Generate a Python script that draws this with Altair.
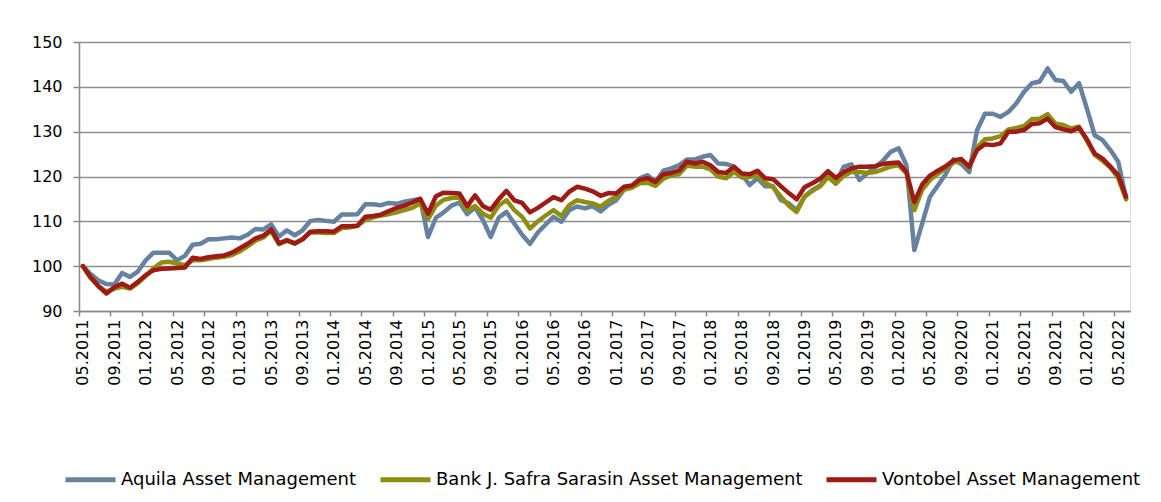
import altair as alt
import pandas as pd

months = pd.date_range("2011-05-01", periods=134, freq="MS").strftime("%m.%Y").tolist()

tick_labels = ["05.2011", "09.2011", "01.2012", "05.2012", "09.2012", "01.2013", "05.2013",
               "09.2013", "01.2014", "05.2014", "09.2014", "01.2015", "05.2015", "09.2015",
               "01.2016", "05.2016", "09.2016", "01.2017", "05.2017", "09.2017", "01.2018",
               "05.2018", "09.2018", "01.2019", "05.2019", "09.2019", "01.2020", "05.2020",
               "09.2020", "01.2021", "05.2021", "09.2021", "01.2022", "05.2022"]

y_ticks = [90, 100, 110, 120, 130, 140, 150]

aquila = [
    100.0, 98.2, 96.8, 96.0, 95.9, 98.5, 97.6, 98.8, 101.3, 103.0,
    103.0, 103.0, 101.3, 102.3, 104.8, 105.0, 106.0, 106.0, 106.2, 106.4,
    106.2, 107.0, 108.3, 108.2, 109.3, 106.6, 108.0, 106.9, 108.0, 110.1,
    110.3, 110.1, 109.9, 111.5, 111.5, 111.6, 113.8, 113.8, 113.6, 114.1,
    113.9, 114.4, 114.7, 115.0, 106.5, 110.8, 112.0, 113.5, 114.2, 111.6,
    113.1, 110.3, 106.5, 110.8, 112.1, 109.5, 107.0, 105.0, 107.5, 109.3,
    111.0, 109.9, 112.5, 113.3, 112.9, 113.4, 112.2, 113.7, 114.7, 117.1,
    117.7, 119.6, 120.3, 118.8, 121.3, 121.8, 122.5, 123.8, 123.8, 124.4,
    124.8, 122.9, 122.8, 122.2, 120.5, 118.1, 119.6, 117.8, 117.8, 114.7,
    114.0, 112.5, 115.5, 117.0, 118.0, 120.3, 118.4, 122.2, 122.7, 119.2,
    120.7, 122.0, 123.5, 125.5, 126.3, 122.5, 103.6, 109.5, 115.5, 118.0,
    120.5, 123.8, 122.8, 121.0, 130.3, 134.0, 134.0, 133.3, 134.4, 136.3,
    138.9, 140.8, 141.2, 144.1, 141.5, 141.3, 138.9, 140.8, 135.2, 129.2,
    128.1, 125.9, 123.3, 115.1,
]

safra = [
    100.0, 97.3, 95.5, 94.3, 95.0, 95.4, 95.0, 96.2, 97.8, 99.5,
    100.8, 101.0, 100.6, 100.2, 101.3, 101.3, 101.6, 101.9, 102.1, 102.5,
    103.3, 104.4, 105.7, 106.4, 107.9, 104.9, 105.7, 105.0, 106.0, 107.5,
    107.5, 107.4, 107.4, 108.5, 108.6, 109.0, 110.3, 110.9, 111.3, 111.6,
    112.0, 112.5, 113.0, 114.0, 110.5, 113.5, 114.8, 115.2, 115.3, 112.5,
    113.4, 111.7, 110.8, 113.5, 114.7, 112.5, 111.0, 108.4, 110.0, 111.3,
    112.5, 111.2, 113.6, 114.7, 114.3, 114.0, 113.3, 114.6, 115.5, 117.1,
    117.5, 118.5, 118.6, 117.9, 119.5, 120.3, 120.5, 122.4, 122.2, 122.2,
    121.6, 120.0, 119.6, 121.0, 119.8, 119.9, 120.3, 118.6, 117.6, 115.5,
    113.5, 112.1, 115.5, 116.8, 117.8, 119.9, 118.4, 120.2, 121.0, 121.0,
    120.8, 121.0, 121.6, 122.2, 122.5, 120.7, 112.5, 117.0, 119.2, 120.6,
    121.8, 123.1, 123.5, 122.0, 126.5, 128.3, 128.5, 129.0, 130.5, 130.8,
    131.3, 132.8, 132.9, 133.9, 131.8, 131.5, 130.7, 131.1, 128.0, 124.8,
    123.5, 122.0, 119.6, 114.9,
]

vontobel = [
    100.0, 97.5, 95.5, 93.9, 95.3, 96.1, 95.2, 96.5, 98.0, 99.1,
    99.4, 99.5, 99.6, 99.7, 101.9, 101.6, 102.0, 102.2, 102.4, 103.0,
    104.0, 105.0, 106.2, 106.8, 108.2, 105.1, 105.8, 105.1, 106.0, 107.7,
    107.8, 107.8, 107.7, 108.9, 108.9, 109.0, 111.0, 111.2, 111.5, 112.3,
    113.0, 113.5, 114.2, 115.0, 111.7, 115.6, 116.4, 116.3, 116.2, 113.4,
    115.8, 113.4, 112.6, 114.9, 116.8, 114.7, 114.1, 112.0, 113.0, 114.2,
    115.4, 114.7, 116.6, 117.7, 117.3, 116.7, 115.7, 116.3, 116.2, 117.7,
    118.0, 119.3, 119.6, 118.8, 120.5, 120.8, 121.3, 123.3, 122.9, 123.3,
    122.5, 121.0, 120.8, 122.2, 120.7, 120.5, 121.3, 119.6, 119.4, 117.8,
    116.3, 114.9, 117.6, 118.5, 119.5, 121.2, 119.7, 121.0, 121.8, 122.2,
    122.2, 122.3, 122.8, 123.0, 123.1, 121.0, 114.3, 118.2, 120.2, 121.3,
    122.3, 123.6, 123.9, 122.2, 125.9, 127.2, 127.0, 127.4, 130.0, 130.0,
    130.4, 131.7, 131.9, 132.9, 131.0, 130.5, 130.1, 130.9, 128.3, 125.1,
    124.0, 122.2, 120.3, 115.5,
]

series_names = ["Aquila Asset Management",
                "Bank J. Safra Sarasin Asset Management",
                "Vontobel Asset Management"]
series_colors = ["#6781A1", "#8E8E12", "#9E1B15"]

frames = []
for name, vals in zip(series_names, [aquila, safra, vontobel]):
    frames.append(pd.DataFrame({"month": months, "value": vals, "series": name}))
df = pd.concat(frames, ignore_index=True)

FONT = "DejaVu Sans"
W, H = 1051, 269
step = W / len(months)

x_enc = alt.X(
    "month:O", sort=months, title=None,
    scale=alt.Scale(type="point", padding=0.5),
    axis=alt.Axis(values=tick_labels, labelAngle=270, tickOffset=-step / 2,
                  labelOffset=step / 2, tickSize=5, labelPadding=3,
                  labelFontSize=16, labelColor="#000000", labelFont=FONT,
                  domainColor="#888888", domainWidth=1.5, tickColor="#888888",
                  tickWidth=1.5, grid=False, labelOverlap=False),
)
y_enc = alt.Y(
    "value:Q", title=None,
    scale=alt.Scale(domain=[90, 150], nice=False, zero=False),
    axis=alt.Axis(values=y_ticks, tickSize=6, labelPadding=11, labelFontSize=16,
                  labelColor="#000000", labelFont=FONT, domainColor="#888888",
                  domainWidth=1.5, tickColor="#888888", tickWidth=1.5,
                  gridColor="#8E8E8E", gridWidth=1.5),
)
color_enc = alt.Color(
    "series:N", title=None,
    scale=alt.Scale(domain=series_names, range=series_colors),
    legend=alt.Legend(orient="none", legendX=-16, legendY=410, direction="horizontal",
                      symbolType="stroke", symbolSize=2500, symbolStrokeWidth=5,
                      labelFontSize=18, labelFont=FONT, labelColor="#000000",
                      labelOffset=3, columnPadding=13, labelLimit=600),
)

layers = []
for name in series_names:
    layers.append(
        alt.Chart(df).transform_filter(alt.datum.series == name)
        .mark_line(strokeWidth=4.5, strokeJoin="round", strokeCap="round")
        .encode(x=x_enc, y=y_enc, color=color_enc)
    )

chart = alt.layer(*layers).properties(
    width=W, height=H,
    autosize=alt.AutoSizeParams(type="none"),
    padding={"left": 71, "top": 34, "right": 23, "bottom": 183},
).configure_view(stroke=None).configure(background="#FFFFFF")

chart.save("out.html", embed_options={"renderer": "svg", "actions": False})
